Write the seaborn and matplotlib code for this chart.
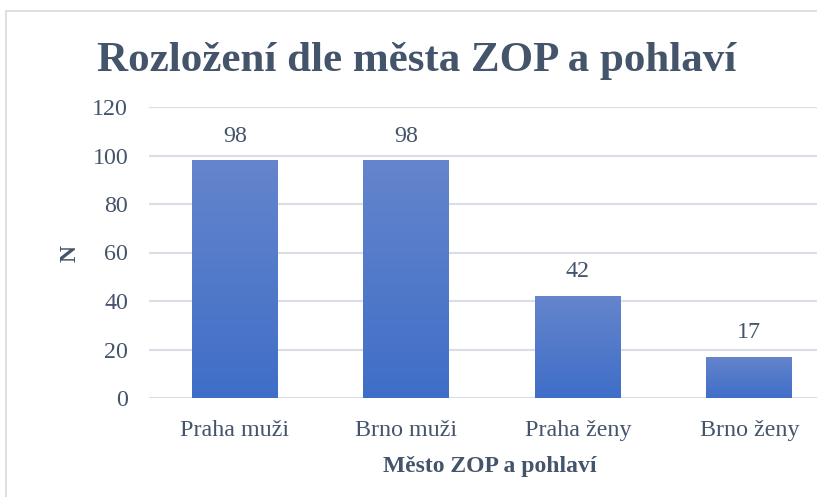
import numpy as np
import pandas as pd
import matplotlib
matplotlib.use("Agg")
import matplotlib.pyplot as plt
import seaborn as sns
from matplotlib.patches import Rectangle
from matplotlib.colors import LinearSegmentedColormap

categories = ["Praha muži", "Brno muži", "Praha ženy", "Brno ženy"]
counts = [98, 98, 42, 17]
y_ticks = [0, 20, 40, 60, 80, 100, 120]

df = pd.DataFrame({"kategorie": categories, "N": counts})

sns.set_theme(style="white")
plt.rcParams["font.family"] = ["Liberation Serif", "DejaVu Serif"]

text_col = "#44546A"
grid_col = "#D9DEE6"

fig = plt.figure(figsize=(8.17, 4.97), dpi=100)
ax = fig.add_axes([149 / 817, 99 / 497, 1 - 149 / 817, 291 / 497])

sns.barplot(data=df, x="kategorie", y="N", color="#4472C4", width=0.5,
            saturation=1, ax=ax, zorder=3)

# gradient fill for each bar
cmap = LinearSegmentedColormap.from_list("grad", ["#3F6EC8", "#6585CC"])
grad = np.linspace(0, 1, 256).reshape(-1, 1)
for p in ax.patches:
    x0, y0 = p.get_x(), p.get_y()
    w, h = p.get_width(), p.get_height()
    im = ax.imshow(grad, cmap=cmap, aspect="auto", origin="lower",
                   extent=[x0, x0 + w, y0, y0 + h], zorder=3)
    im.set_clip_path(p)
    p.set_facecolor("none")
    p.set_edgecolor("none")

for x, v in enumerate(counts):
    ax.text(x, v + 10, str(v), ha="center", va="center",
            fontsize=17.3, color=text_col)

ax.set_xlim(-0.5, 3.395)
ax.set_ylim(0, 120)
ax.set_yticks(y_ticks)
ax.yaxis.grid(True, color=grid_col, linewidth=1.5, zorder=0)
ax.set_axisbelow(True)
for s in ax.spines.values():
    s.set_visible(False)
ax.tick_params(axis="both", length=0, labelsize=17.3, labelcolor=text_col)
ax.tick_params(axis="y", pad=15)
ax.tick_params(axis="x", pad=16)

ax.set_xlabel("Město ZOP a pohlaví", fontsize=17, fontweight="bold",
              color=text_col, labelpad=8)
ax.xaxis.set_label_coords((490 - 149) / (817 - 149), -0.2)
ax.set_ylabel("N", fontsize=17, fontweight="bold", color=text_col)
ax.yaxis.set_label_coords(-(149 - 81) / (817 - 149), (398 - 253) / 291)

fig.text(417 / 817, 1 - 61 / 497, "Rozložení dle města ZOP a pohlaví",
         ha="center", va="center", fontsize=31, fontweight="bold",
         color=text_col)

fig.patches.append(Rectangle((6 / 817, -0.1), 2, 1.1 - 11 / 497,
                             transform=fig.transFigure, fill=False,
                             edgecolor="#D9D9D9", linewidth=1.2))

fig.savefig("out.png", dpi=100)
